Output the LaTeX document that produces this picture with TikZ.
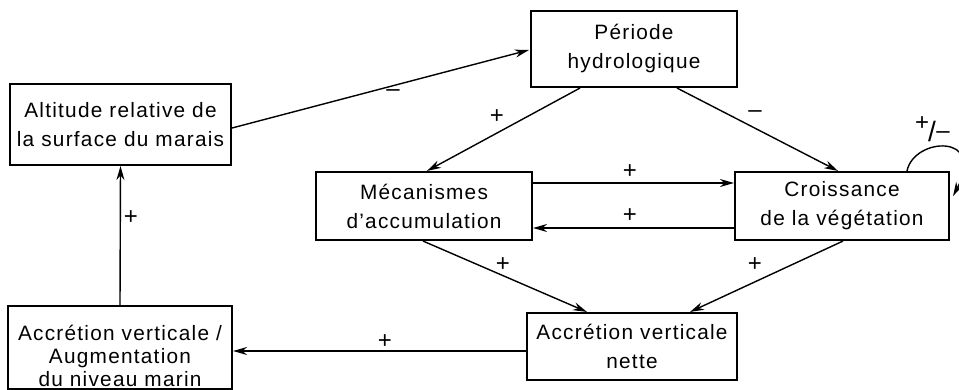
\documentclass[tikz,border=0pt]{standalone}
\usepackage{fontspec}
\setmainfont{Liberation Sans}[LetterSpace=6]
\usetikzlibrary{arrows.meta,calc}
\begin{document}
\begin{tikzpicture}[x=1pt,y=-1pt,
  txt/.style={font=\fontsize{20.8}{29}\selectfont, align=center, inner sep=0pt},
  box/.style={draw, line width=2.1pt, inner sep=0pt, align=center, font=\fontsize{20.8}{29}\selectfont},
  arr/.style={line width=1.4pt, -{Stealth[length=14pt,width=8pt]}},
  lab/.style={font=\fontsize{24}{24}\selectfont, inner sep=0pt}]
\useasboundingbox (0,0) rectangle (959,390);
% boxes
\node[box, minimum width=221pt, minimum height=81pt] (alt) at (120.5,124.5) {Altitude relative de\\la surface du marais};
\node[box, minimum width=206pt, minimum height=76pt] (per) at (634,49) {Période\\hydrologique};
\node[box, minimum width=216pt, minimum height=68pt] (mec) at (424,206) {Mécanismes\\d’accumulation};
\node[box, minimum width=214pt, minimum height=68pt] (cro) at (842,206) {Croissance\\de la végétation};
\node[box, minimum width=210pt, minimum height=67pt] (net) at (632,346.5) {Accrétion verticale\\nette};
\node[box, minimum width=224pt, minimum height=83pt] (acc) at (120,347.5) {};
\node[txt, font=\fontsize{20.8}{23}\selectfont] (acct) at (120,356) {Accrétion verticale /\\Augmentation\\du niveau marin};
% connectors
\draw[arr] ($(alt.east)+(0,3.5)$) -- ($(per.west)+(-1,1)$);
\draw[arr] ($(per.south)+(-54,0)$) -- ($(mec.north)+(3,0)$);
\draw[arr] ($(per.south)+(43,0)$) -- ($(cro.north)+(-4,0)$);
\draw[arr] ($(mec.east)+(0,-23)$) -- ($(cro.west)+(0,-23)$);
\draw[arr] ($(cro.west)+(0,22)$) -- ($(mec.east)+(0,22)$);
\draw[arr] ($(mec.south)+(-1,0)$) -- ($(net.north)+(-45,0)$);
\draw[arr] ($(cro.south)+(1,0)$) -- ($(net.north)+(58,0)$);
\draw[arr] ($(net.west)+(0,4.5)$) -- ($(acc.east)+(0,3.5)$);
\draw[arr] (acc.north) -- (alt.south);
\draw[arr] ($(cro.north)+(65,0)$) .. controls ($(cro.north)+(72,-34)$) and ($(cro.north)+(145,-38)$) .. ($(cro.east)+(3,-10)$);
% labels
\node[lab] (l1) at (393,93) {–};
\node[lab] (l2) at (497,117) {+};
\node[lab] (l3) at (755,114) {–};
\node[lab] (l4) at (630,172) {+};
\node[lab] (l5) at (630,216) {+};
\node[lab] (l6) at (503,265) {+};
\node[lab] (l7) at (755,265) {+};
\node[lab] (l8) at (385,342) {+};
\node[lab] (l9) at (131,218) {+};
\node[lab] (l10) at (922,124) {+};
\node[lab, font=\fontsize{28}{28}\selectfont] (l11) at (932,131) {/};
\node[lab] (l12) at (943,135) {–};
\end{tikzpicture}
\end{document}
